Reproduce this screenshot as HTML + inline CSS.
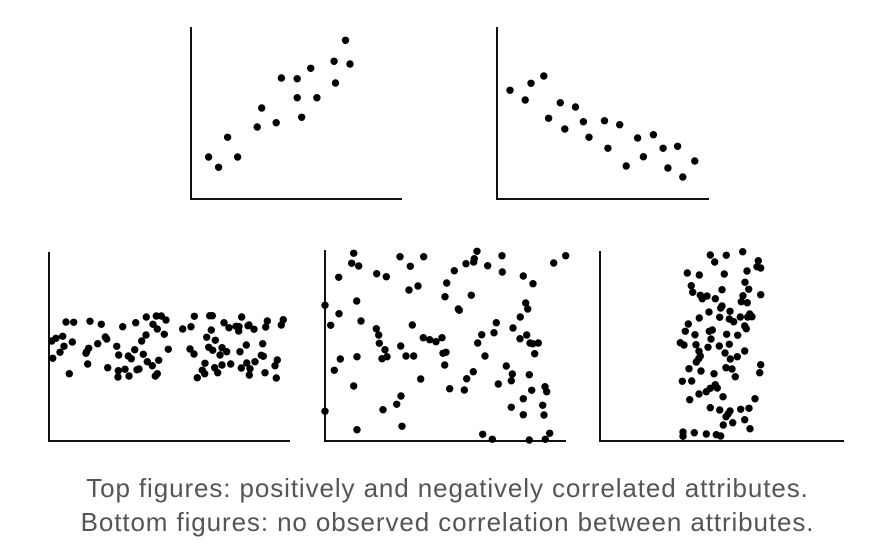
<!DOCTYPE html>
<html><head><meta charset="utf-8"><style>
html,body{margin:0;padding:0;background:#fff;}
#wrap{position:relative;width:895px;height:553px;overflow:hidden;}
svg{position:absolute;left:0;top:0;}
.cap{position:absolute;left:0;width:895px;text-align:center;font-family:"Liberation Sans",sans-serif;font-size:26px;letter-spacing:0.9px;color:#555;line-height:30px;}
</style></head><body>
<div id="wrap">
<svg id="chart" width="895" height="553"></svg>
<div class="cap" style="top:473px">Top figures: positively and negatively correlated attributes.</div>
<div class="cap" style="top:507px">Bottom figures: no observed correlation between attributes.</div>
</div>
<script>
const posX=[83,112,138,167,237,224,279,294,340,340,353,379,397,447,451,480,493];
const posY=[411,442,352,411,264,321,308,174,176,233,292,145,233,124,189,61,132];
const negX=[957,1001,1018,1055,1103,1069,1116,1147,1170,1186,1231,1241,1275,1294,1327,1344,1373,1401,1415,1443,1458,1493];
const negY=[211,240,190,168,248,295,327,261,305,352,302,385,314,438,354,410,344,385,444,379,471,423];
const bandPts=[[35,288],[48,280],[68,274],[38,340],[72,304],[60,322],[78,231],[101,232],[97,291],[88,386],[150,229],[184,238],[143,357],[140,320],[146,310],[138,325],[173,296],[196,276],[200,282],[203,368],[230,304],[236,330],[235,377],[234,396],[255,373],[248,245],[267,393],[265,333],[274,341],[284,314],[287,233],[291,374],[297,372],[310,328],[305,288],[318,270],[319,216],[339,238],[349,213],[364,213],[378,225],[352,252],[373,268],[385,313],[356,346],[337,362],[322,350],[352,386],[346,393],[428,252],[453,245],[463,214],[450,312],[462,327],[495,355],[487,376],[494,386],[472,398],[509,212],[517,212],[514,255],[500,277],[526,286],[506,307],[518,316],[546,308],[560,320],[540,330],[524,368],[533,383],[546,360],[552,233],[567,248],[572,357],[588,244],[597,245],[596,258],[605,216],[600,320],[619,300],[624,242],[642,253],[604,369],[620,354],[630,371],[628,390],[645,350],[664,331],[668,296],[670,334],[675,383],[677,246],[682,228],[705,362],[712,345],[709,399],[724,240],[730,224],[627,240]];
const randPts=[[116,40],[110,70],[131,78],[71,112],[185,101],[214,110],[255,50],[286,79],[326,50],[282,150],[309,138],[125,183],[30,196],[72,221],[47,256],[138,243],[184,266],[191,285],[193,310],[210,329],[201,356],[216,350],[126,350],[76,357],[58,391],[116,438],[30,514],[126,569],[261,559],[204,509],[245,493],[258,468],[317,417],[257,318],[273,348],[296,348],[292,255],[325,293],[344,299],[363,305],[381,293],[384,340],[393,337],[389,375],[404,446],[390,170],[395,129],[418,92],[430,207],[433,211],[453,71],[476,66],[478,56],[486,34],[518,77],[561,47],[562,96],[469,166],[448,450],[455,416],[475,395],[488,309],[500,284],[510,348],[537,278],[544,248],[625,108],[654,131],[632,189],[638,207],[616,231],[594,264],[615,296],[635,285],[645,309],[653,311],[670,309],[659,341],[574,378],[592,402],[589,422],[550,432],[643,404],[650,451],[625,476],[589,502],[625,524],[683,496],[687,525],[690,440],[695,455],[704,580],[691,598],[643,600],[532,598],[503,583],[716,69],[752,47]];
const vertPts=[[346,45],[359,66],[394,46],[443,35],[490,62],[486,80],[497,84],[456,93],[388,102],[313,105],[277,99],[289,137],[293,157],[316,166],[322,176],[336,168],[361,176],[381,149],[450,127],[461,148],[444,167],[439,185],[457,188],[497,164],[381,198],[377,204],[405,214],[342,216],[313,234],[374,232],[403,237],[416,245],[436,231],[458,231],[464,222],[471,230],[449,258],[454,266],[280,252],[271,274],[300,284],[343,274],[352,270],[348,297],[395,283],[428,286],[256,308],[267,315],[303,314],[339,322],[373,318],[403,313],[312,334],[316,348],[311,356],[304,366],[390,339],[406,357],[427,350],[449,333],[282,386],[318,393],[393,383],[411,387],[357,401],[421,410],[497,374],[494,398],[262,424],[290,423],[346,445],[334,455],[312,462],[361,434],[367,444],[384,470],[284,479],[480,476],[346,503],[374,510],[405,513],[399,522],[393,530],[437,508],[462,505],[449,539],[413,548],[385,555],[465,566],[264,576],[264,589],[298,578],[334,582],[364,584],[377,588]];

const svg=document.getElementById('chart');
const NS='http://www.w3.org/2000/svg';
function line(x1,y1,x2,y2,name){
  const l=document.createElementNS(NS,'line');
  l.setAttribute('x1',x1);l.setAttribute('y1',y1);l.setAttribute('x2',x2);l.setAttribute('y2',y2);
  l.setAttribute('stroke','#111');l.setAttribute('stroke-width','2');
  
  
  svg.appendChild(l);
}
function dot(x,y,name){
  const c=document.createElementNS(NS,'circle');
  c.setAttribute('cx',x.toFixed(1));c.setAttribute('cy',y.toFixed(1));c.setAttribute('r','3.7');c.setAttribute('fill','#000');
  
  
  svg.appendChild(c);
}
const sxTop=v=>180+v/2.9, syTop=v=>20+v/3;
line(191,27,191,200,'y-axis-positive');line(190,199,402,199,'x-axis-positive');
line(497,27,497,200,'y-axis-negative');line(496,199,709,199,'x-axis-negative');
posX.forEach((v,i)=>dot(sxTop(v),syTop(posY[i]),'point-positive'));
negX.forEach((v,i)=>dot(sxTop(v),syTop(negY[i]),'point-negative'));
const sxB1=v=>40+v/3, syB=v=>240+v/3, syB1=v=>245+v/3;
line(49,252,49,442,'y-axis-band');line(48,441,290,441,'x-axis-band');
bandPts.forEach(p=>dot(sxB1(p[0]),syB1(p[1]),'point-band'));
const sxB2=v=>315+v/3;
line(325,250,325,442,'y-axis-random');line(324,441,566,441,'x-axis-random');
randPts.forEach(p=>dot(sxB2(p[0]),syB(p[1]),'point-random'));
const sxB3=v=>595+v/3;
line(600,251,600,442,'y-axis-vertical');line(599,441,844,441,'x-axis-vertical');
vertPts.forEach(p=>dot(sxB3(p[0]),syB(p[1]),'point-vertical'));
</script>
</body></html>
